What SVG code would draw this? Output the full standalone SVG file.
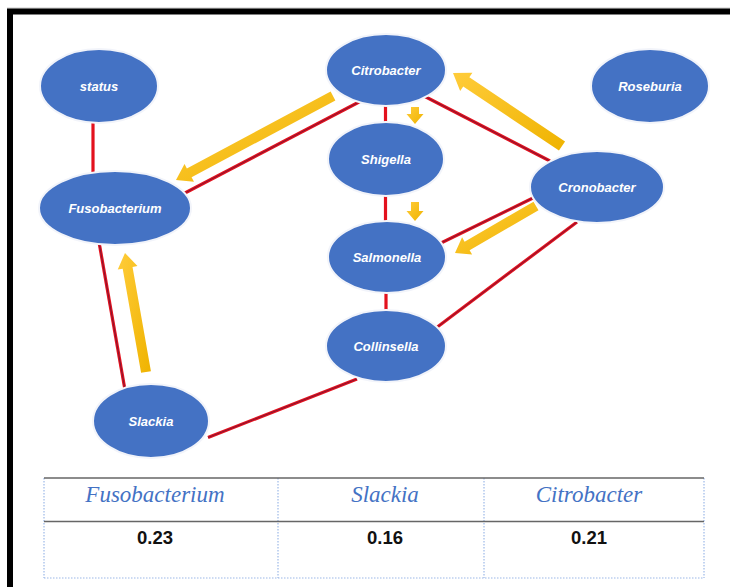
<svg xmlns="http://www.w3.org/2000/svg" width="730" height="587" viewBox="0 0 730 587">
<defs>
<linearGradient id="gold" x1="0" y1="0" x2="1" y2="1">
<stop offset="0" stop-color="#ffcc3a"/>
<stop offset="1" stop-color="#efb300"/>
</linearGradient>
<style>
.node ellipse{fill:#4472c4;stroke:#f2f4fa;stroke-width:2}
.node text{font-family:"Liberation Sans",Arial,sans-serif;font-weight:bold;font-style:italic;font-size:13px;fill:#fff;text-anchor:middle}
.edge{stroke:#e3111d;stroke-width:3.2;stroke-linecap:butt;fill:none}
.core{stroke:#4a1840;stroke-width:0.9;opacity:0.7;fill:none}
.arrow{fill:url(#gold)}
.th{font-family:"Liberation Serif","Times New Roman",serif;font-style:italic;font-size:23px;fill:#4472c4;text-anchor:middle}
.td{font-family:"Liberation Sans",Arial,sans-serif;font-weight:bold;font-size:18.5px;fill:#111;text-anchor:middle}
.rule{stroke:#666;stroke-width:1.5}
.dot{stroke:#9cb8e8;stroke-width:1.2;stroke-dasharray:1.5 1.5;fill:none}
</style>
</defs>
<rect width="730" height="587" fill="#fff"/>
<line x1="7" y1="8" x2="730" y2="8" stroke="#c8c8c8" stroke-width="1"/>
<path d="M10 587 V11.5 H730" fill="none" stroke="#000" stroke-width="6"/>

<g id="connectors">
<g id="edges">
<line class="edge" x1="93" y1="120" x2="93" y2="173"/>
<line class="edge" x1="360" y1="101.5" x2="184" y2="193.5"/>
<line class="edge" x1="385.5" y1="104" x2="385.5" y2="125"/>
<line class="edge" x1="422" y1="95" x2="550" y2="161"/>
<line class="edge" x1="385.5" y1="194" x2="385.5" y2="223"/>
<line class="edge" x1="537" y1="196" x2="441" y2="243"/>
<line class="edge" x1="577" y1="222" x2="436" y2="328"/>
<line class="edge" x1="386" y1="291" x2="386" y2="312"/>
<line class="edge" x1="99" y1="242" x2="125" y2="390"/>
<line class="edge" x1="357" y1="379" x2="208" y2="437.5"/>
<line class="core" x1="360" y1="101.5" x2="184" y2="193.5"/>
<line class="core" x1="422" y1="95" x2="550" y2="161"/>
<line class="core" x1="537" y1="196" x2="441" y2="243"/>
<line class="core" x1="577" y1="222" x2="436" y2="328"/>
<line class="core" x1="99" y1="242" x2="125" y2="390"/>
<line class="core" x1="357" y1="379" x2="208" y2="437.5"/>
</g>
<g id="arrows">
<polygon class="arrow" points="330.64,91.59 186.87,168.51 184.51,164.10 176,180 193.95,181.74 191.59,177.33 335.36,100.41"/>
<polygon class="arrow" points="565.06,141.43 469.35,77.33 472.41,72.76 453,73 460.17,91.04 463.23,86.47 558.94,150.57"/>
<polygon class="arrow" points="533.49,201.68 464.60,241.65 462.09,237.32 455,253 472.13,254.62 469.62,250.29 538.51,210.32"/>
<polygon class="arrow" points="150.92,371.13 132.53,266.90 137.46,266.03 125,253 117.76,269.51 122.69,268.64 141.08,372.87"/>
<polygon class="arrow" points="411,107 411,114 406.5,114 415,124 423.5,114 419,114 419,107"/>
<polygon class="arrow" points="411,202 411,211 406.5,211 415,221 423.5,211 419,211 419,202"/>
</g>
</g>

<g id="status" class="node"><ellipse cx="99" cy="86" rx="59" ry="37"/><text x="99" y="90.5">status</text></g>
<g id="citrobacter" class="node"><ellipse cx="386" cy="70" rx="60" ry="36"/><text x="386" y="74.5">Citrobacter</text></g>
<g id="roseburia" class="node"><ellipse cx="650" cy="86" rx="59" ry="37"/><text x="650" y="90.5">Roseburia</text></g>
<g id="shigella" class="node"><ellipse cx="386" cy="159" rx="58" ry="37"/><text x="386" y="163.5">Shigella</text></g>
<g id="fusobacterium" class="node"><ellipse cx="115" cy="208" rx="76" ry="37"/><text x="115" y="212.5">Fusobacterium</text></g>
<g id="cronobacter" class="node"><ellipse cx="597" cy="187" rx="67" ry="36"/><text x="597" y="191.5">Cronobacter</text></g>
<g id="salmonella" class="node"><ellipse cx="387" cy="257" rx="59" ry="36"/><text x="387" y="261.5">Salmonella</text></g>
<g id="collinsella" class="node"><ellipse cx="386" cy="346" rx="60" ry="36"/><text x="386" y="350.5">Collinsella</text></g>
<g id="slackia" class="node"><ellipse cx="151" cy="421" rx="58" ry="37"/><text x="151" y="425.5">Slackia</text></g>

<g id="table">
<line class="dot" x1="44" y1="478" x2="44" y2="578"/>
<line class="dot" x1="278" y1="478" x2="278" y2="578"/>
<line class="dot" x1="484" y1="478" x2="484" y2="578"/>
<line class="dot" x1="704" y1="478" x2="704" y2="578"/>
<line class="dot" x1="44" y1="578" x2="704" y2="578"/>
<line class="rule" x1="44" y1="478" x2="704" y2="478"/>
<line class="rule" x1="44" y1="521.5" x2="704" y2="521.5"/>
<text class="th" x="155" y="502">Fusobacterium</text>
<text class="th" x="385" y="502">Slackia</text>
<text class="th" x="589" y="502">Citrobacter</text>
<text class="td" x="155" y="543.5">0.23</text>
<text class="td" x="385" y="543.5">0.16</text>
<text class="td" x="589" y="543.5">0.21</text>
</g>
</svg>
